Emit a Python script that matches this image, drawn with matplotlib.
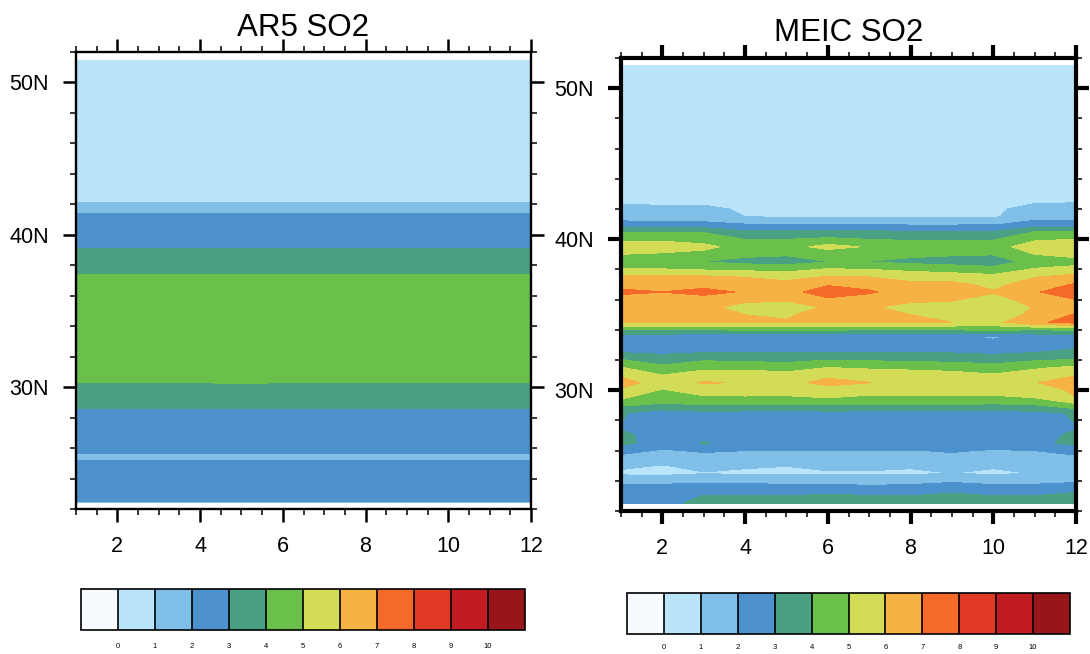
import matplotlib
matplotlib.use("Agg")
import matplotlib.pyplot as plt
import numpy as np

plt.rcParams['font.family'] = ['Liberation Sans', 'DejaVu Sans']

months = [1, 2, 3, 4, 5, 6, 7, 8, 9, 10, 11, 12]
levels = [0, 1, 2, 3, 4, 5, 6, 7, 8, 9, 10]
colors = ['#F7FBFF', '#BAE4F9', '#80BFE8', '#4D91CD', '#49A082', '#6BBF4B',
          '#D2DC57', '#F7B244', '#F56A28', '#E03A24', '#C01C22', '#98161A']
lat_ticks = [30, 40, 50]
lat_labels = ['30N', '40N', '50N']

# AR5: zonal bands, read top to bottom
ar5_lat = [51.5, 42.3, 41.9, 41.5, 41.3, 39.3, 38.9, 37.6, 37.2, 30.5, 30.1,
           28.8, 28.4, 25.8, 25.6, 25.4, 25.2, 25.0, 22.6, 22.4]
ar5_profile = [0.5, 0.7, 1.5, 1.9, 2.1, 2.8, 3.2, 3.8, 4.2, 4.2, 3.8,
               3.2, 2.8, 2.3, 2.0, 1.7, 2.0, 2.3, 2.2, 1.9]

# MEIC: one row per latitude, one column per month
meic_lat = [51.5, 43.0, 42.5, 42.0, 41.5, 41.0, 40.5, 40.0, 39.5, 39.0, 38.5, 38.0,
            37.5, 37.0, 36.5, 36.0, 35.5, 35.0, 34.5, 34.0, 33.5, 33.0, 32.5, 32.0,
            31.5, 31.0, 30.5, 30.0, 29.5, 29.0, 28.5, 28.0, 27.5, 27.0, 26.5, 26.0,
            25.5, 25.0, 24.5, 24.0, 23.5, 23.0, 22.5]
meic_so2 = [
    [0.5, 0.5, 0.5, 0.5, 0.5, 0.5, 0.5, 0.5, 0.5, 0.5, 0.5, 0.5],
    [0.5, 0.5, 0.5, 0.5, 0.5, 0.5, 0.5, 0.5, 0.5, 0.5, 0.5, 0.5],
    [0.8, 0.75, 0.75, 0.5, 0.5, 0.5, 0.5, 0.5, 0.5, 0.5, 0.85, 0.9],
    [1.3, 1.25, 1.25, 0.85, 0.8, 0.8, 0.8, 0.8, 0.8, 0.8, 1.4, 1.45],
    [1.6, 1.55, 1.55, 1.0, 0.85, 0.85, 0.85, 0.85, 0.85, 0.85, 1.7, 1.7],
    [2.3, 2.2, 2.2, 2.0, 1.95, 2.0, 1.95, 1.85, 1.85, 1.9, 2.3, 2.3],
    [3.95, 3.9, 3.9, 3.15, 3.15, 3.2, 3.15, 3.05, 3.05, 3.05, 4.0, 4.1],
    [4.8, 4.85, 4.6, 3.98, 3.98, 4.2, 3.98, 3.9, 3.9, 3.9, 4.85, 5.0],
    [5.4, 5.4, 5.25, 4.6, 4.6, 5.35, 4.9, 4.5, 4.5, 4.6, 5.5, 5.6],
    [5.0, 4.9, 4.7, 4.2, 4.1, 4.4, 4.4, 4.2, 4.1, 4.05, 5.0, 5.25],
    [4.5, 4.4, 3.98, 3.7, 3.6, 3.97, 3.97, 3.75, 3.6, 3.4, 4.4, 4.7],
    [5.1, 5.05, 4.9, 4.8, 4.7, 5.1, 5.0, 4.8, 4.6, 4.4, 5.1, 5.3],
    [6.2, 6.2, 6.2, 5.95, 5.6, 6.1, 6.0, 5.55, 5.5, 5.3, 5.95, 6.4],
    [6.7, 6.7, 6.7, 6.6, 6.4, 6.9, 6.6, 6.3, 6.3, 5.7, 6.5, 7.1],
    [7.2, 7.01, 7.3, 6.9, 6.6, 7.6, 7.15, 6.4, 6.4, 6.1, 6.9, 7.6],
    [6.6, 6.6, 6.6, 6.2, 6.1, 6.8, 6.5, 6.2, 6.1, 5.6, 6.4, 7.0],
    [6.5, 6.5, 6.2, 5.7, 5.6, 6.1, 6.1, 5.7, 5.6, 5.4, 6.05, 6.6],
    [6.5, 6.5, 6.3, 6.0, 5.85, 6.5, 6.3, 6.0, 5.7, 5.5, 6.2, 7.1],
    [6.1, 6.1, 6.1, 6.1, 6.1, 6.2, 6.2, 6.1, 6.0, 5.7, 6.8, 7.4],
    [4.0, 4.0, 4.0, 4.1, 4.1, 4.1, 4.0, 4.0, 4.0, 4.2, 4.0, 4.1],
    [2.4, 2.3, 2.02, 1.98, 1.98, 2.1, 2.2, 2.2, 2.05, 1.85, 2.2, 2.4],
    [2.6, 2.5, 2.6, 2.6, 2.6, 2.6, 2.6, 2.6, 2.6, 2.5, 2.6, 2.7],
    [2.98, 2.8, 2.98, 2.98, 2.95, 3.02, 2.98, 2.95, 2.95, 2.8, 2.98, 3.3],
    [4.05, 3.6, 3.9, 3.8, 3.7, 4.0, 3.9, 3.8, 3.7, 3.6, 3.9, 4.1],
    [5.05, 4.2, 4.8, 4.8, 4.6, 5.0, 4.85, 4.8, 4.7, 4.4, 4.85, 5.2],
    [5.8, 5.0, 5.4, 5.4, 5.3, 5.8, 5.6, 5.4, 5.3, 5.1, 5.5, 5.95],
    [6.5, 5.4, 6.1, 5.9, 5.7, 6.3, 6.02, 5.7, 5.6, 5.4, 5.95, 6.5],
    [5.8, 4.9, 5.5, 5.5, 5.4, 5.6, 5.4, 5.4, 5.4, 5.3, 5.4, 6.2],
    [5.1, 4.5, 4.8, 4.85, 4.85, 5.0, 4.8, 4.8, 4.8, 4.85, 5.0, 5.98],
    [4.1, 3.8, 3.95, 3.9, 3.85, 3.95, 3.9, 3.9, 3.9, 3.8, 3.9, 4.7],
    [3.1, 2.5, 2.75, 2.7, 2.7, 2.7, 2.7, 2.7, 2.7, 2.65, 2.75, 3.1],
    [3.03, 2.5, 2.5, 2.5, 2.5, 2.5, 2.5, 2.5, 2.5, 2.5, 2.5, 3.05],
    [2.95, 2.5, 2.6, 2.5, 2.5, 2.5, 2.5, 2.5, 2.5, 2.5, 2.6, 2.95],
    [3.2, 2.6, 2.8, 2.6, 2.6, 2.6, 2.6, 2.6, 2.6, 2.6, 2.6, 3.2],
    [3.3, 2.5, 3.05, 2.7, 2.6, 2.6, 2.6, 2.6, 2.6, 2.6, 2.7, 3.3],
    [2.3, 1.9, 2.1, 2.0, 2.0, 1.95, 1.95, 1.95, 2.1, 1.9, 2.0, 2.3],
    [1.7, 1.5, 1.7, 1.6, 1.6, 1.6, 1.6, 1.6, 1.7, 1.5, 1.65, 1.8],
    [1.2, 0.95, 1.25, 1.1, 1.02, 1.2, 1.2, 1.1, 1.3, 1.1, 1.3, 1.5],
    [0.8, 0.7, 0.95, 0.85, 0.8, 0.9, 0.9, 0.85, 1.0, 0.85, 1.02, 1.3],
    [1.7, 1.75, 1.8, 1.8, 1.7, 1.75, 1.7, 1.7, 1.85, 1.7, 1.75, 1.85],
    [2.3, 2.3, 2.4, 2.4, 2.3, 2.3, 2.2, 2.3, 2.5, 2.3, 2.3, 2.5],
    [2.6, 2.7, 3.02, 3.02, 3.0, 3.2, 3.05, 3.0, 3.3, 3.0, 3.02, 3.4],
    [2.6, 2.9, 3.1, 3.2, 3.2, 3.3, 3.3, 3.2, 3.4, 3.3, 3.3, 3.5],
]

W, H = 1090.0, 654.0


def px_axes(fig, x0, y0, x1, y1):
    return fig.add_axes([x0 / W, 1 - y1 / H, (x1 - x0) / W, (y1 - y0) / H])


def style_panel(ax, title, frame, tick_w, title_y):
    ax.set_xlim(1, 12)
    ax.set_ylim(22, 52)
    ax.set_xticks([2, 4, 6, 8, 10, 12])
    ax.set_xticks(np.arange(1, 12.01, 0.5), minor=True)
    ax.set_yticks(lat_ticks)
    ax.set_yticklabels(lat_labels)
    ax.set_yticks(np.arange(22, 52.01, 2), minor=True)
    ax.tick_params(which='major', direction='out', top=True, right=True, length=9.5,
                   width=tick_w, labelsize=15.5, pad=10)
    ax.tick_params(axis='x', which='major', pad=10)
    ax.tick_params(which='minor', direction='out', top=True, right=True, length=4,
                   width=1.1)
    for s in ax.spines.values():
        s.set_linewidth(frame)
    ax.set_title(title, fontsize=22.5, y=title_y, pad=0)


def add_bar(fig, cs, x0, y0, x1, y1, pad):
    cax = px_axes(fig, x0, y0, x1, y1)
    cb = fig.colorbar(cs, cax=cax, orientation='horizontal', ticks=levels,
                      extendrect=True, extendfrac=0.1, drawedges=True)
    cb.ax.tick_params(length=0, labelsize=5.5, pad=pad, which='both')
    cb.ax.minorticks_off()
    cb.outline.set_linewidth(1.2)
    cb.dividers.set_linewidth(1.2)


fig = plt.figure(figsize=(10.9, 6.54), dpi=100)

ar5_so2 = np.tile(ar5_profile, (12, 1)).T
ar5_so2[9, 4] = 4.25
ar5_so2[10, 4] = 3.9

ax1 = px_axes(fig, 76, 52, 531, 509)
cs1 = ax1.contourf(months, ar5_lat, ar5_so2, levels=levels, colors=colors[1:-1], extend='both')
cs1.cmap.set_under(colors[0])
cs1.cmap.set_over(colors[-1])
cs1.changed()
style_panel(ax1, 'AR5 SO2', 1.7, 1.8, 1.036)

ax2 = px_axes(fig, 621, 58, 1076, 511)
cs2 = ax2.contourf(months, meic_lat, np.array(meic_so2), levels=levels, colors=colors[1:-1], extend='both')
cs2.cmap.set_under(colors[0])
cs2.cmap.set_over(colors[-1])
cs2.changed()
style_panel(ax2, 'MEIC SO2', 3, 3, 1.038)

add_bar(fig, cs1, 81, 589, 525, 630, 9.5)
add_bar(fig, cs2, 627, 593, 1070, 634, 7.5)

fig.savefig("out.png", dpi=100)
